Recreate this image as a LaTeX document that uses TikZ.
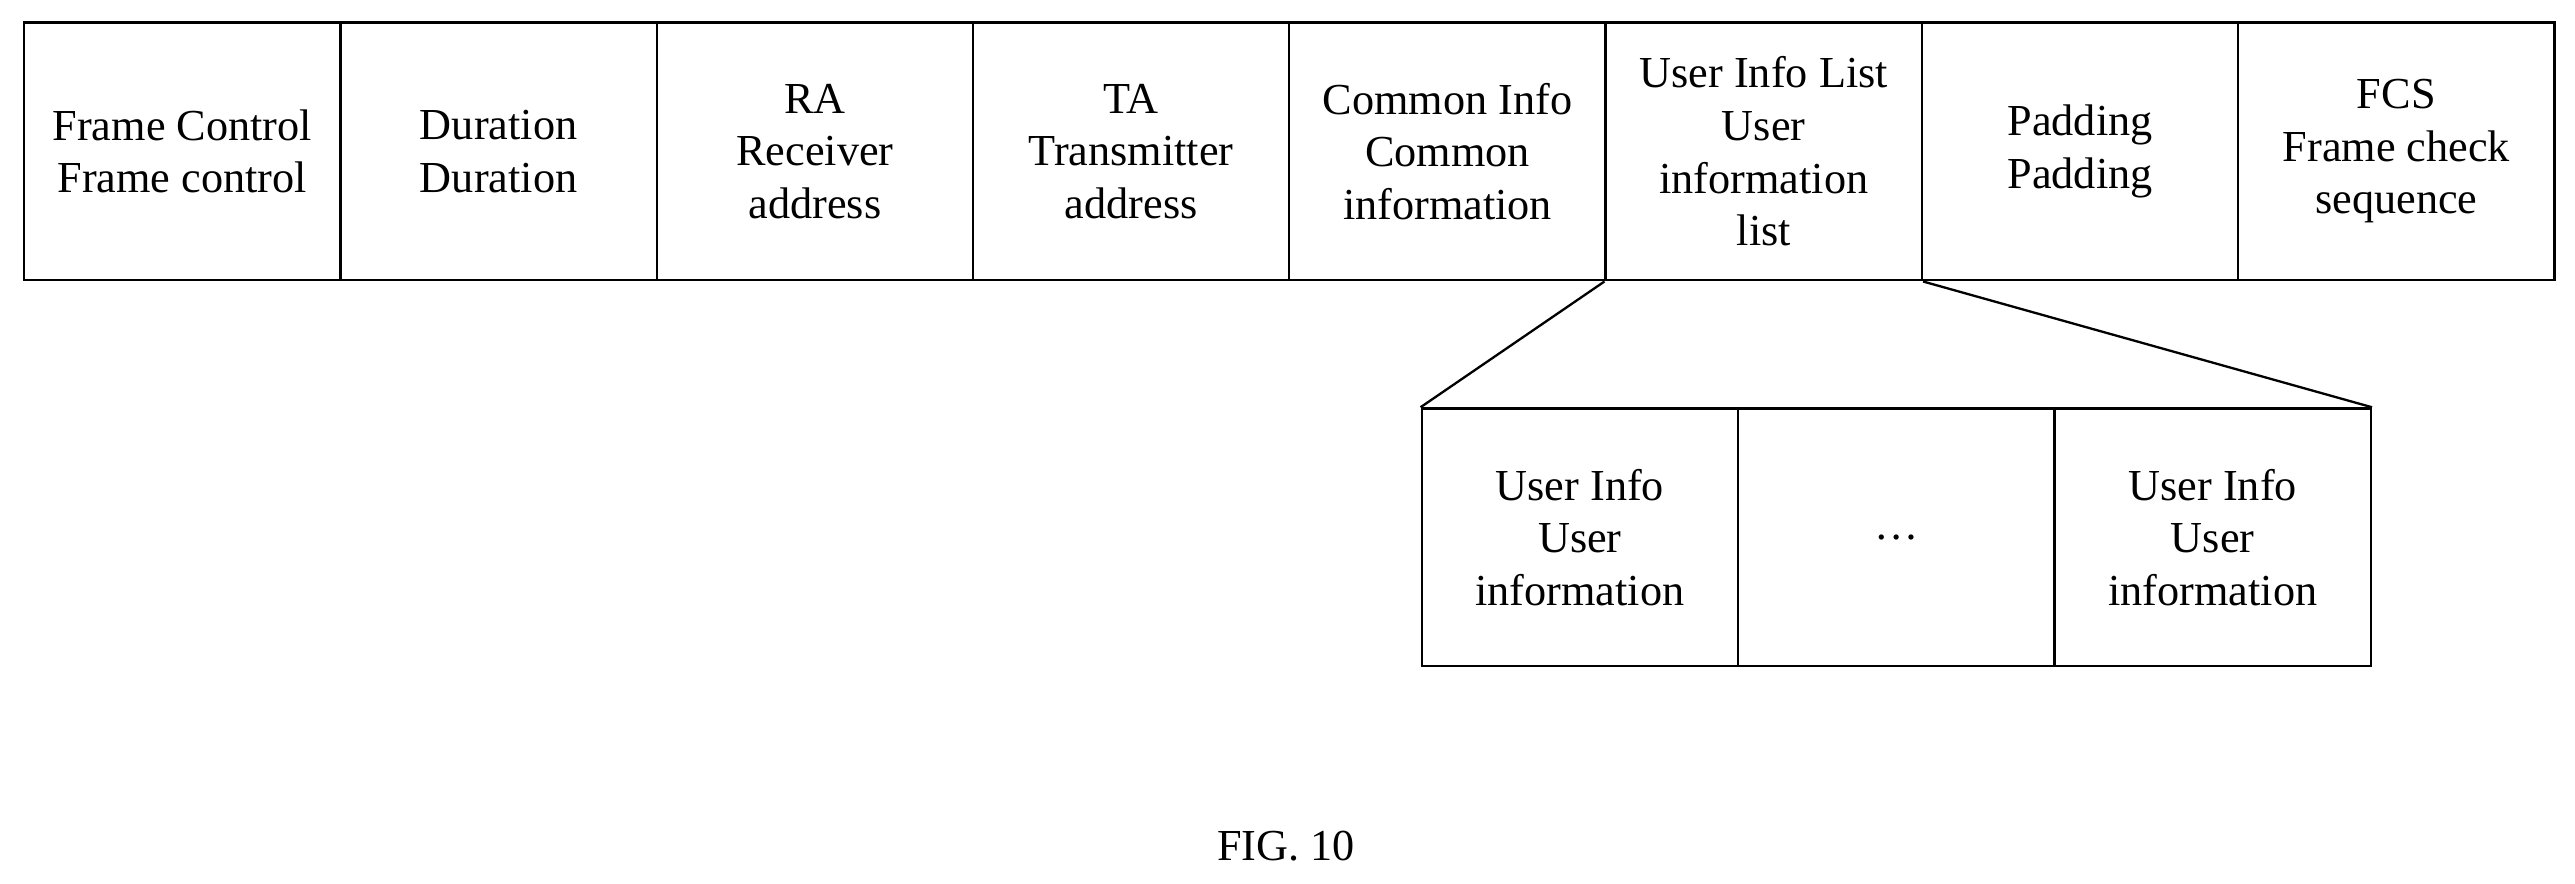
\documentclass[tikz,border=0pt]{standalone}
\usepackage{fontspec}
\setmainfont{Liberation Serif}
\begin{document}
\begin{tikzpicture}[x=0.03cm,y=-0.03cm,
  cell/.style={draw,line width=1.2pt,minimum width=192.6*0.03cm,minimum height=157*0.03cm,inner sep=0pt,align=center,font=\fontsize{23}{27.3}\selectfont,anchor=north west},
  line/.style={line width=1.2pt}]
\useasboundingbox (0,0) rectangle (1568,538);
\foreach \t [count=\i from 0] in {{Frame Control\\Frame control},{Duration\\Duration},{RA\\Receiver\\address},{TA\\Transmitter\\address},{Common Info\\Common\\information},{User Info List\\User\\information\\list},{Padding\\Padding},{FCS\\Frame check\\sequence}}
  \node[cell] (t\i) at (14+192.6*\i,13) {\t};
\foreach \t [count=\i from 0] in {{User Info\\User\\information},{\dots},{User Info\\User\\information}}
  \node[cell] (b\i) at (865+192.7*\i,248) {\t};
\draw[line] (t5.south west) -- (b0.north west);
\draw[line] (t5.south east) -- (b2.north east);
\node[font=\fontsize{23}{27.3}\selectfont] (fig) at (783,515) {FIG. 10};
\end{tikzpicture}
\end{document}
